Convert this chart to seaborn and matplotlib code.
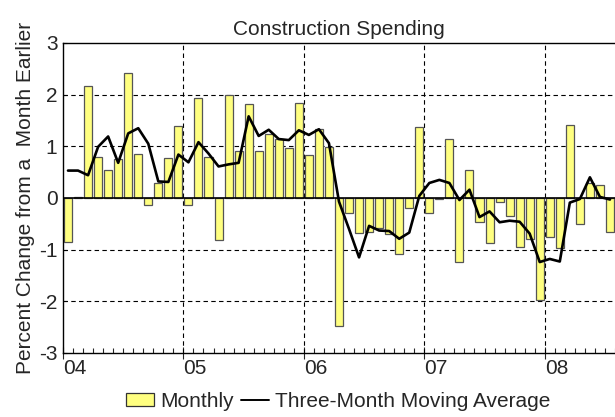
import numpy as np
import pandas as pd
import matplotlib
matplotlib.use("Agg")
import matplotlib.pyplot as plt
import seaborn as sns
from matplotlib.patches import Patch
from matplotlib.lines import Line2D

# Monthly percent change, Jan 2004 .. Jul 2008
monthly = [
    -0.86, 0.02, 2.17, 0.80, 0.55, 0.75, 2.42, 0.86, -0.13, 0.29, 0.78, 1.40,   # 2004
    -0.13, 1.93, 0.80, -0.82, 1.99, 0.91, 1.82, 0.91, 1.23, 1.15, 0.96, 1.84,   # 2005
    0.84, 1.33, 0.99, -2.47, -0.29, -0.67, -0.65, -0.58, -0.69, -1.09, -0.20, 1.37,  # 2006
    -0.29, -0.02, 1.15, -1.24, 0.55, -0.46, -0.88, -0.07, -0.35, -0.95, -0.80, -1.97,  # 2007
    -0.76, -0.96, 1.42, -0.51, 0.29, 0.26, -0.65,                                 # 2008
]
moving_avg = [
    0.53, 0.53, 0.44, 0.99, 1.19, 0.68, 1.25, 1.35, 1.05, 0.32, 0.31, 0.84,
    0.69, 1.08, 0.86, 0.61, 0.65, 0.68, 1.58, 1.20, 1.32, 1.14, 1.12, 1.31,
    1.22, 1.33, 1.06, -0.07, -0.60, -1.15, -0.54, -0.63, -0.64, -0.79, -0.67, 0.04,
    0.29, 0.35, 0.29, -0.04, 0.16, -0.37, -0.26, -0.47, -0.44, -0.46, -0.69, -1.24,
    -1.18, -1.23, -0.09, -0.02, 0.40, 0.02, -0.03,
]
year_labels = ["04", "05", "06", "07", "08"]
title = "Construction Spending"
ylabel = "Percent Change from a  Month Earlier"

n = len(monthly)
month_pos = np.arange(n) + 0.5
df = pd.DataFrame({"pos": month_pos, "monthly": monthly, "ma": moving_avg})

sns.set_style("white")
plt.rcParams["font.family"] = ["Liberation Sans", "DejaVu Sans"]

fig = plt.figure(figsize=(6.15, 4.17), dpi=100)
ax = fig.add_axes([0.1024, 0.1535, 0.8976, 0.7435])

bar_color = "#FFFF80"
sns.barplot(data=df, x="pos", y="monthly", native_scale=True, width=0.8,
            color=bar_color, edgecolor="#555555", linewidth=0.9,
            saturation=1, ax=ax, zorder=2)
sns.lineplot(data=df, x="pos", y="ma", color="black", linewidth=1.9, ax=ax, zorder=3)

ax.set_xlim(0, n)
ax.set_ylim(-3, 3)
ax.axhline(0, color="black", linewidth=1.2, zorder=2.5)

# grid
for y in [-2, -1, 1, 2]:
    ax.axhline(y, color="black", linewidth=0.8, linestyle=(0, (4, 3)), zorder=1)
for i in range(1, len(year_labels)):
    ax.axvline(12 * i, color="black", linewidth=0.8, linestyle=(0, (4, 3)), zorder=1)

ax.set_xticks([12 * i for i in range(len(year_labels))])
ax.set_xticklabels(year_labels, ha="left", fontsize=15)
ax.set_xticks(np.arange(0, n + 1), minor=True)
ax.tick_params(axis="x", which="major", direction="inout", length=8, width=0.8, pad=0, bottom=True)
ax.tick_params(axis="x", which="minor", direction="in", length=3.5, width=0.8, bottom=True)
ax.set_yticks(range(-3, 4))
ax.set_yticklabels([str(v) for v in range(-3, 4)], fontsize=15)
ax.tick_params(axis="y", direction="in", length=3, width=0.8, left=True, pad=4)

ax.set_xlabel("")
ax.set_ylabel(ylabel, fontsize=15, labelpad=3)
ax.set_title(title, fontsize=15, pad=6)

for s in ["left", "bottom", "top"]:
    ax.spines[s].set_color("black")
    ax.spines[s].set_linewidth(1.0)
ax.spines["right"].set_visible(False)

handles = [Patch(facecolor=bar_color, edgecolor="#333333", linewidth=0.9),
           Line2D([0], [0], color="black", linewidth=1.4)]
fig.legend(handles, ["Monthly", "Three-Month Moving Average"], loc="center",
           bbox_to_anchor=(0.550, 0.038), ncol=2, frameon=False, fontsize=15,
           handlelength=1.35, handleheight=0.55, handletextpad=0.3, columnspacing=0.35)

fig.savefig("out.png", dpi=100)
